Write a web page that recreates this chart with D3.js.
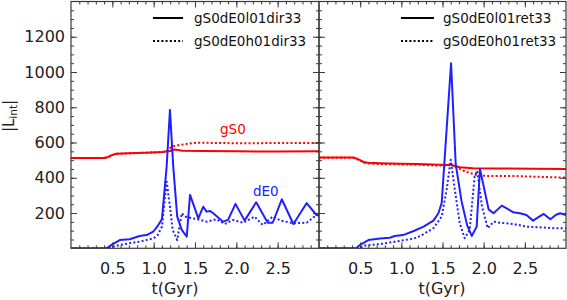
<!DOCTYPE html>
<html><head><meta charset="utf-8">
<script src="https://cdn.jsdelivr.net/npm/d3@7"></script>
<style>body{margin:0;background:#fff}svg{display:block}text{font-family:"DejaVu Sans",sans-serif}</style>
</head><body><svg id="c" width="567" height="300"></svg>
<script>
// ---- data ----
const xTickLabels = [0.5, 1.0, 1.5, 2.0, 2.5];
const yTickLabels = [200, 400, 600, 800, 1000, 1200];
const legendLeft = ["gS0dE0l01dir33", "gS0dE0h01dir33"];
const legendRight = ["gS0dE0l01ret33", "gS0dE0h01ret33"];

// left panel (dir33)
const tGasL_l = [0, 0.4, 0.45, 0.5, 0.55, 0.7, 0.9, 1.1, 1.2, 1.25, 1.35, 1.6, 2.0, 2.5, 3.0];
const vGasL_l = [512, 512, 518, 530, 536, 539, 542, 546, 552, 560, 554, 552, 550, 549, 550];
const tGasL_h = [0, 0.4, 0.45, 0.5, 0.55, 0.7, 0.9, 1.1, 1.15, 1.22, 1.32, 1.52, 1.7, 2.0, 2.5, 3.0];
const vGasL_h = [512, 512, 518, 530, 536, 539, 542, 546, 548, 577, 587, 599, 598, 596, 597, 597];
const tDwL_l = [0, 0.43, 0.5, 0.59, 0.71, 0.83, 0.915, 0.995, 1.055, 1.10, 1.157, 1.197, 1.237, 1.285, 1.34, 1.40, 1.44, 1.54, 1.60, 1.64, 1.68, 1.72, 1.84, 1.90, 1.99, 2.10, 2.24, 2.38, 2.44, 2.55, 2.69, 2.85, 2.97, 3.0];
const vDwL_l = [0, 0, 22, 47, 51, 70, 75, 94, 132, 165, 463, 785, 463, 180, 104, 66, 303, 170, 236, 208, 212, 199, 151, 161, 252, 157, 261, 145, 145, 278, 138, 256, 189, 190];
const tDwL_h = [0, 0.45, 0.52, 0.59, 0.83, 1.0, 1.05, 1.10, 1.157, 1.197, 1.23, 1.285, 1.34, 1.38, 1.56, 1.64, 1.76, 1.86, 1.96, 2.08, 2.22, 2.32, 2.44, 2.54, 2.69, 2.85, 2.97, 3.0];
const vDwL_h = [0, 0, 10, 19, 38, 57, 75, 123, 378, 236, 104, 47, 199, 180, 161, 151, 165, 138, 161, 145, 180, 132, 180, 157, 142, 145, 189, 185];

// right panel (ret33)
const tGasR_l = [0, 0.42, 0.5, 0.55, 0.6, 0.74, 1.0, 1.2, 1.55, 1.6, 1.71, 1.87, 2.2, 2.6, 3.0];
const vGasR_l = [515, 515, 500, 488, 485, 483, 480, 478, 473, 473, 460, 454, 453, 451, 450];
const tGasR_h = [0, 0.42, 0.5, 0.55, 0.6, 0.74, 1.0, 1.2, 1.55, 1.6, 1.66, 1.78, 1.91, 2.04, 2.36, 3.0];
const vGasR_h = [513, 513, 498, 485, 481, 478, 476, 474, 468, 478, 460, 435, 416, 410, 410, 401];
const tDwR_l = [0, 0.45, 0.5, 0.6, 0.74, 0.86, 0.92, 1.02, 1.15, 1.27, 1.39, 1.45, 1.49, 1.604, 1.66, 1.73, 1.80, 1.855, 1.915, 1.955, 2.06, 2.12, 2.22, 2.28, 2.36, 2.44, 2.52, 2.60, 2.66, 2.73, 2.81, 2.88, 2.93, 3.0];
const vDwR_l = [0, 0, 20, 47, 55, 60, 70, 75, 98, 123, 157, 199, 256, 1050, 480, 270, 130, 70, 123, 450, 221, 199, 242, 227, 204, 199, 189, 157, 175, 195, 165, 190, 199, 189];
const tDwR_h = [0, 0.5, 0.54, 0.74, 0.98, 1.15, 1.23, 1.39, 1.49, 1.55, 1.60, 1.65, 1.71, 1.77, 1.83, 1.89, 1.92, 1.98, 2.05, 2.12, 2.20, 2.36, 2.52, 2.68, 2.85, 3.0];
const vDwR_h = [0, 0, 15, 24, 42, 55, 70, 114, 180, 331, 502, 331, 142, 57, 104, 407, 440, 236, 114, 151, 145, 138, 123, 119, 114, 114];

// ---- drawing ----
const RED = "#ff0000", BLUE = "#2020ff", AX = "#3a3a3a";
const svg = d3.select("#c");
const yTop = 1.5, yBot = 248.3;
const y = d3.scaleLinear().domain([0, 1400]).range([yBot, yTop]);

const panels = [
  {x0: 71, x1: 319, left: true, legend: legendLeft, legX: 153, legW: 30, txtX: 194,
   series: [[tGasL_l, vGasL_l, RED, false], [tGasL_h, vGasL_h, RED, true], [tDwL_l, vDwL_l, BLUE, false], [tDwL_h, vDwL_h, BLUE, true]]},
  {x0: 319, x1: 566, left: false, legend: legendRight, legX: 401, legW: 33, txtX: 443,
   series: [[tGasR_l, vGasR_l, RED, false], [tGasR_h, vGasR_h, RED, true], [tDwR_l, vDwR_l, BLUE, false], [tDwR_h, vDwR_h, BLUE, true]]}
];

const minorX = d3.range(1, 30).map(d => d / 10);
const minorY = d3.range(50, 1400, 50);

panels.forEach((p, i) => {
  const x = d3.scaleLinear().domain([0, 3]).range([p.x0, p.x1]);
  const g = svg.append("g");
  const clipId = "clip" + i;
  svg.append("clipPath").attr("id", clipId).append("rect")
    .attr("x", p.x0).attr("y", yTop).attr("width", p.x1 - p.x0).attr("height", yBot - yTop);

  // lines
  const line = d3.line().x(d => x(d[0])).y(d => y(d[1]));
  p.series.forEach(([t, v, col, dotted]) => {
    g.append("path").datum(t.map((tt, k) => [tt, v[k]]))
      .attr("clip-path", `url(#${clipId})`)
      .attr("d", line).attr("fill", "none").attr("stroke", col)
      .attr("stroke-width", 2)
      .attr("stroke-linejoin", "round")
      .attr("stroke-dasharray", dotted ? "2,2.2" : null);
  });

  // axes
  const axG = svg.append("g").attr("color", AX);
  const mk = (gen, tr) => {
    const a = axG.append("g").attr("transform", tr).call(gen);
    a.select(".domain").remove();
    a.selectAll("line").attr("stroke", AX);
    return a;
  };
  mk(d3.axisBottom(x).tickValues(minorX).tickSize(-3).tickFormat(""), `translate(0,${yBot})`);
  mk(d3.axisTop(x).tickValues(minorX).tickSize(-3).tickFormat(""), `translate(0,${yTop})`);
  const bx = mk(d3.axisBottom(x).tickValues(xTickLabels).tickSize(-6).tickPadding(14).tickFormat(d3.format(".1f")), `translate(0,${yBot})`);
  bx.selectAll("text").attr("font-size", 16).attr("fill", "#222").attr("font-family", "DejaVu Sans");
  mk(d3.axisTop(x).tickValues(xTickLabels).tickSize(-6).tickFormat(""), `translate(0,${yTop})`);

  mk(d3.axisLeft(y).tickValues(minorY).tickSize(-3).tickFormat(""), `translate(${p.x0},0)`);
  mk(d3.axisRight(y).tickValues(minorY).tickSize(-3).tickFormat(""), `translate(${p.x1},0)`);
  const ly = mk(d3.axisLeft(y).tickValues(yTickLabels).tickSize(-6).tickPadding(6)
      .tickFormat(p.left ? d3.format("d") : ""), `translate(${p.x0},0)`);
  ly.selectAll("text").attr("font-size", 16).attr("fill", "#222").attr("font-family", "DejaVu Sans");
  mk(d3.axisRight(y).tickValues(yTickLabels).tickSize(-6).tickFormat(""), `translate(${p.x1},0)`);

  // frame
  svg.append("rect").attr("x", p.x0).attr("y", yTop).attr("width", p.x1 - p.x0).attr("height", yBot - yTop)
    .attr("fill", "none").attr("stroke", AX).attr("stroke-width", 1.2);

  // x label
  svg.append("text").attr("x", p.left ? 175 : 442).attr("y", 294).attr("text-anchor", "middle")
    .attr("font-size", 16).attr("fill", "#222").text("t(Gyr)");

  // legend
  p.legend.forEach((lab, k) => {
    const ly0 = 18 + k * 23;
    svg.append("line").attr("x1", p.legX).attr("x2", p.legX + p.legW).attr("y1", ly0).attr("y2", ly0)
      .attr("stroke", "#000").attr("stroke-width", 2).attr("stroke-dasharray", k ? "2,2.2" : null);
    svg.append("text").attr("x", p.txtX).attr("y", ly0 + 5).attr("font-size", 13.5).attr("fill", "#111").text(lab);
  });
});

// annotations
svg.append("text").attr("x", 220).attr("y", 134).attr("font-size", 13.5).attr("fill", RED).text("gS0");
svg.append("text").attr("x", 253).attr("y", 195.5).attr("font-size", 13.5).attr("fill", BLUE).text("dE0");

// y label
const yl = svg.append("text").attr("transform", "translate(14,116) rotate(-90)")
  .attr("text-anchor", "middle").attr("font-size", 15).attr("fill", "#222");
yl.append("tspan").text("|L");
yl.append("tspan").attr("font-size", 10.5).attr("dy", 3).text("int");
yl.append("tspan").attr("dy", -3).text("|");
</script></body></html>
